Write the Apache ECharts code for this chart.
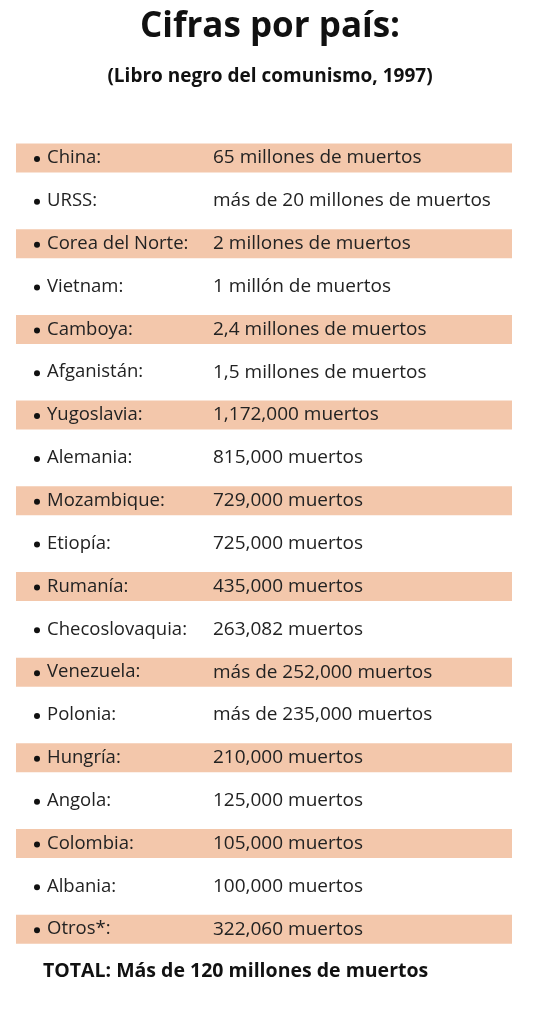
<!DOCTYPE html>
<html><head><meta charset="utf-8">
<script src="https://cdn.jsdelivr.net/npm/echarts@6/dist/echarts.min.js"></script>
<style>html,body{margin:0;padding:0;background:#fff}#c{width:540px;height:1024px}</style>
</head><body><div id="c"></div>
<script>
const countries = ["China:","URSS:","Corea del Norte:","Vietnam:","Camboya:","Afganistán:","Yugoslavia:","Alemania:","Mozambique:","Etiopía:","Rumanía:","Checoslovaquia:","Venezuela:","Polonia:","Hungría:","Angola:","Colombia:","Albania:","Otros*:"];
const figures = ["65 millones de muertos","más de 20 millones de muertos","2 millones de muertos","1 millón de muertos","2,4 millones de muertos","1,5 millones de muertos","1,172,000 muertos","815,000 muertos","729,000 muertos","725,000 muertos","435,000 muertos","263,082 muertos","más de 252,000 muertos","más de 235,000 muertos","210,000 muertos","125,000 muertos","105,000 muertos","100,000 muertos","322,060 muertos"];
const titleText = "Cifras por país:";
const subtitleText = "(Libro negro del comunismo, 1997)";
const totalText = "TOTAL: Más de 120 millones de muertos";

const chart = echarts.init(document.getElementById('c'));
const font = "'Open Sans', Lato, sans-serif";
chart.setOption({
  animation:false,
  title:[
    {text:titleText,left:'center',top:5,textStyle:{fontSize:35,fontWeight:'bold',color:'#111',fontFamily:font}},
    {text:subtitleText,left:'center',top:62,textStyle:{fontSize:19,fontWeight:'bold',color:'#111',fontFamily:font}},
    {text:totalText,left:38,top:956,textStyle:{fontSize:19.5,fontWeight:'bold',color:'#111',fontFamily:font}}
  ],
  grid:{left:16,right:28,top:136.6,bottom:73.4},
  xAxis:{type:'value',min:0,max:1,show:false},
  yAxis:{type:'category',inverse:true,data:countries,show:false},
  series:[{
    type:'custom',
    data:countries.map((c,i)=>[0,i]),
    renderItem:function(params,api){
      const i=api.value(1);
      const p0=api.coord([0,i]);
      const p1=api.coord([1,i]);
      const children=[];
      if(i%2===0) children.push({type:'rect',shape:{x:p0[0],y:p0[1]-14.5,width:p1[0]-p0[0],height:29},style:{fill:'#f3c7ab'}});
      children.push({type:'circle',shape:{cx:p0[0]+21,cy:p0[1]+1,r:3},style:{fill:'#111'}});
      children.push({type:'text',style:{text:countries[i],x:p0[0]+31,y:p0[1],verticalAlign:'middle',fontSize:18.5,fontFamily:font,fill:'#222'}});
      children.push({type:'text',style:{text:figures[i],x:p0[0]+197,y:p0[1],verticalAlign:'middle',fontSize:19,fontFamily:font,fill:'#222'}});
      return {type:'group',children};
    }
  }]
});
</script></body></html>
